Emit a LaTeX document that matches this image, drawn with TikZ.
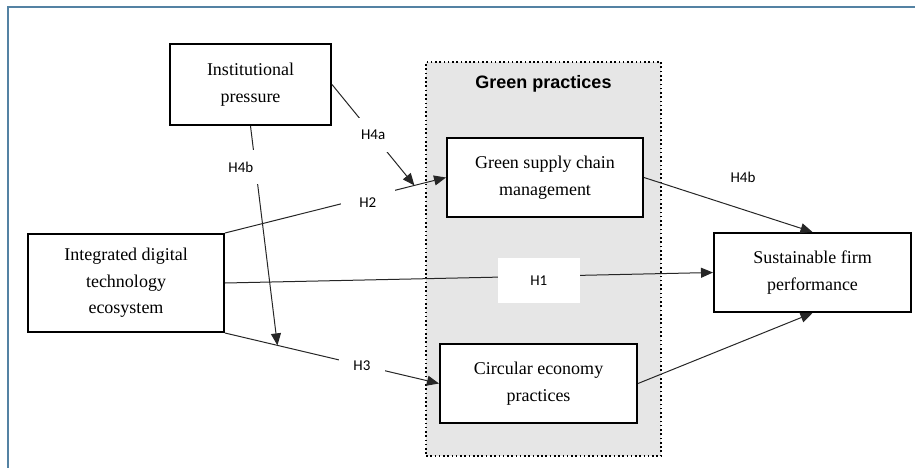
\documentclass[tikz,border=0pt]{standalone}
\usepackage{fontspec}
\setmainfont{Liberation Serif}
\newfontfamily\boxfont{Liberation Serif}
\newfontfamily\lblfont{Carlito}
\newfontfamily\headfont{Liberation Sans}
\usetikzlibrary{positioning, arrows.meta}
\definecolor{frameblue}{RGB}{84,130,163}
\definecolor{groupgray}{RGB}{230,230,230}
\tikzstyle{construct}=[rectangle, draw=black, line width=1.5pt, fill=white, align=center, font=\boxfont\fontsize{13.5}{20}\selectfont]
\tikzstyle{group}=[rectangle, draw=black, dotted, line width=1.2pt, fill=groupgray]
\tikzstyle{hyp}=[fill=white, inner xsep=11pt, inner ysep=7pt, font=\lblfont\fontsize{11.25}{13}\selectfont]
\tikzstyle{path}=[draw=black!85, line width=0.75pt]
\tikzstyle{arrow}=[path, -{Triangle[length=9pt,width=7.5pt]}]

\begin{document}
\begin{tikzpicture}[x=0.75pt, y=-0.75pt]
            \useasboundingbox (0,0) rectangle (915,468);
            %outer frame, only top and left edge in view
            \draw[frameblue, line width=1.2pt] (915,7) -- (8,7) -- (8,468);

            %Green practices group with its two mediators
            \node[group, minimum width=176.25pt, minimum height=295.5pt](grp) at (543.5,259){};
            \node[below = 7pt of grp.north, font=\headfont\bfseries\fontsize{13.5}{16}\selectfont](grptitle){Green practices};
            \node[construct, minimum width=147pt, minimum height=59.25pt](gscm) at (545,177.5){Green supply chain\\management};
            \node[construct, minimum width=147.75pt, minimum height=59.25pt](cep) at (538.5,383.5){Circular economy\\practices};

            %Antecedents and outcome
            \node[construct, minimum width=120.75pt, minimum height=60.75pt](inst) at (250.5,84.5){Institutional\\pressure};
            \node[construct, minimum width=147pt, minimum height=73.5pt](idte) at (126,283){Integrated digital\\technology\\ecosystem};
            \node[construct, minimum width=147.75pt, minimum height=59.25pt](sfp) at (812.5,272.5){Sustainable firm\\performance};

            %Direct and mediated paths
            \draw[arrow] (idte.east) -- node[hyp, pos=0.643, yshift=-3pt, minimum width=61.5pt, minimum height=33.75pt](h1){H1} (sfp.west);
            \draw[arrow] (idte.north east) -- coordinate[pos=0.857](h2pt) node[hyp, pos=0.646, yshift=-4pt, inner xsep=14pt](h2){H2} (gscm.west);
            \draw[arrow] (idte.south east) -- coordinate[pos=0.245](h3pt) node[hyp, pos=0.64](h3){H3} (cep.west);
            \draw[arrow] (gscm.east) -- (sfp.north);
            \draw[arrow] (cep.east) -- (sfp.south);

            %Moderation by institutional pressure
            \draw[arrow] (inst.east) -- node[hyp, pos=0.5, inner xsep=6pt, inner ysep=9pt](h4a){H4a} (h2pt);
            \draw[arrow] (inst.south) -- node[hyp, pos=0.187, xshift=-11pt, inner xsep=4pt, inner ysep=9pt](h4b){H4b} (h3pt);
            \node[font=\lblfont\fontsize{11.25}{13}\selectfont](h4bout) at (743,177){H4b};
        \end{tikzpicture}
\end{document}
